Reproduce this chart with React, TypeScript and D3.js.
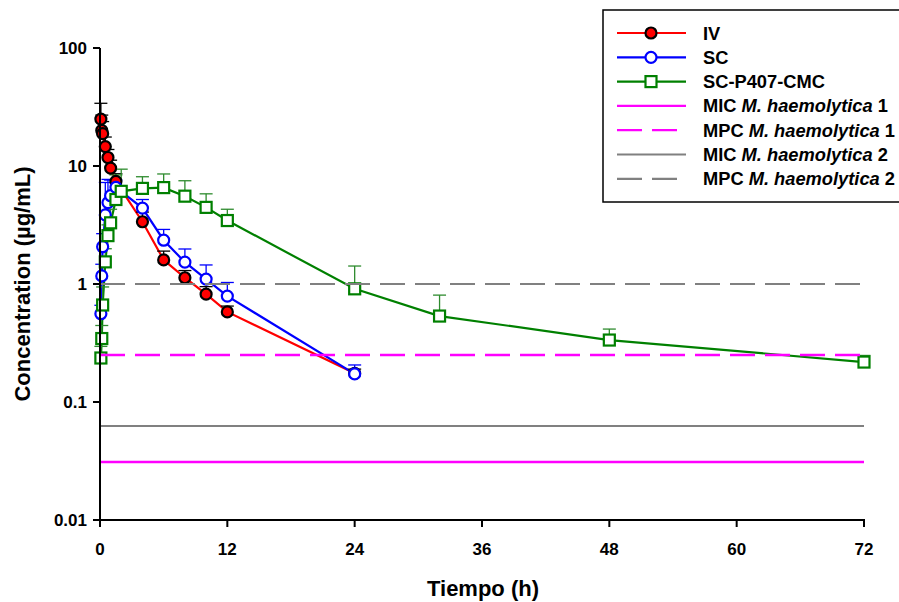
import React from "react";
import * as d3 from "d3";

const ivTime = [0.083, 0.167, 0.25, 0.5, 0.75, 1, 1.5, 4, 6, 8, 10, 12, 24];
const ivMean = [25, 20, 18.8, 14.6, 11.8, 9.6, 7.4, 3.37, 1.6, 1.13, 0.82, 0.58, 0.175];
const ivSd = [9, 7, 5, 3, 2, 1.6, 1.2, 0.7, 0.3, 0.17, 0.13, 0.07, 0.015];

const scTime = [0.083, 0.167, 0.25, 0.5, 0.75, 1, 1.5, 4, 6, 8, 10, 12, 24];
const scMean = [0.56, 1.17, 2.07, 3.85, 4.9, 5.6, 6.6, 4.4, 2.35, 1.53, 1.1, 0.79, 0.173];
const scSd = [0.1, 0.3, 0.6, 3.4, 2.8, 2.0, 1.0, 0.8, 0.55, 0.45, 0.35, 0.24, 0.033];

const gelTime = [0.083, 0.167, 0.25, 0.5, 0.75, 1, 1.5, 2, 4, 6, 8, 10, 12, 24, 32, 48, 72];
const gelMean = [0.236, 0.345, 0.664, 1.54, 2.57, 3.3, 5.2, 6.1, 6.46, 6.56, 5.55, 4.46, 3.45, 0.91, 0.535, 0.335, 0.218];
const gelSd = [0.06, 0.1, 0.28, 0.45, 0.6, 1.0, 3.2, 3.3, 1.65, 2.0, 1.95, 1.35, 0.85, 0.51, 0.27, 0.08, 0.03];

const refValues = [0.031, 0.25, 0.0625, 1];
const refColors = ["#FF00FF", "#FF00FF", "#808080", "#808080"];
const refDashed = [false, true, false, true];
const refLabels = ["MIC", "MPC", "MIC", "MPC"];
const refStrain = ["1", "1", "2", "2"];

const xTicks = [0, 12, 24, 36, 48, 60, 72];
const yTicks = [0.01, 0.1, 1, 10, 100];
const yTickLabels = ["0.01", "0.1", "1", "10", "100"];

const FONT = "'Liberation Sans', Arial, sans-serif";

export default function App() {
  const x = d3.scaleLinear().domain([0, 72]).range([100, 864]);
  const y = d3.scaleLog().domain([0.01, 100]).range([520, 48]);

  const mk = (t: number[], v: number[]) => t.map((tt, i) => [tt, v[i]] as [number, number]);
  const line = d3
    .line<[number, number]>()
    .x((d) => x(d[0]))
    .y((d) => y(d[1]));

  const series = [
    { name: "IV", t: ivTime, m: ivMean, s: ivSd, color: "#FF0000", err: "#000000", shape: "filled" },
    { name: "SC", t: scTime, m: scMean, s: scSd, color: "#0000FF", err: "#0000FF", shape: "open" },
    { name: "SC-P407-CMC", t: gelTime, m: gelMean, s: gelSd, color: "#008000", err: "#2E8B2E", shape: "square" },
  ];

  const marker = (shape: string, color: string, cx: number, cy: number, key: any) => {
    if (shape === "filled")
      return <circle key={key} cx={cx} cy={cy} r={5.5} fill="#FF0000" stroke="#000" strokeWidth={2.2} />;
    if (shape === "open")
      return <circle key={key} cx={cx} cy={cy} r={5.5} fill="#fff" stroke={color} strokeWidth={2.2} />;
    return <rect key={key} x={cx - 5.5} y={cy - 5.5} width={11} height={11} fill="#fff" stroke={color} strokeWidth={2.2} />;
  };

  const legendY = (i: number) => 33 + i * 24.3;

  return (
    <svg width={899} height={602} style={{ position: "absolute", left: 0, top: 0 }} fontFamily={FONT}>
      <rect width={899} height={602} fill="#fff" />
      {series.map((s) => (
        <path key={s.name} d={line(mk(s.t, s.m)) || ""} fill="none" stroke={s.color} strokeWidth={2.2} />
      ))}
      {series.map((s) =>
        s.t.map((t, i) => {
          const cx = x(t);
          const y0 = y(s.m[i]);
          const y1 = y(s.m[i] + s.s[i]);
          return (
            <g key={s.name + "e" + i} stroke={s.err} strokeWidth={1.3}>
              <line x1={cx} x2={cx} y1={y0} y2={y1} />
              <line x1={cx - 6.5} x2={cx + 6.5} y1={y1} y2={y1} />
            </g>
          );
        })
      )}
      {series.map((s) => s.t.map((t, i) => marker(s.shape, s.color, x(t), y(s.m[i]), s.name + "m" + i)))}
      {refValues.map((v, i) => (
        <line
          key={"ref" + i}
          x1={x(0)}
          x2={x(72)}
          y1={y(v)}
          y2={y(v)}
          stroke={refColors[i]}
          strokeWidth={i < 2 ? 2.5 : 2}
          strokeDasharray={refDashed[i] ? "25,10" : undefined}
        />
      ))}
      <line x1={x(0)} x2={x(0)} y1={y(100)} y2={y(0.01)} stroke="#000" strokeWidth={2} />
      <line x1={x(0) - 1} x2={x(72) + 1} y1={y(0.01)} y2={y(0.01)} stroke="#000" strokeWidth={2} />
      {yTicks.map((v, i) => (
        <g key={"yt" + i}>
          <line x1={x(0) - 7} x2={x(0)} y1={y(v)} y2={y(v)} stroke="#000" strokeWidth={2} />
          <text x={x(0) - 13} y={y(v)} dy="0.36em" textAnchor="end" fontSize={17} fontWeight="bold">
            {yTickLabels[i]}
          </text>
        </g>
      ))}
      {xTicks.map((t) => (
        <g key={"xt" + t}>
          <line x1={x(t)} x2={x(t)} y1={y(0.01)} y2={y(0.01) + 7} stroke="#000" strokeWidth={2} />
          <text x={x(t)} y={555} textAnchor="middle" fontSize={17} fontWeight="bold">
            {t}
          </text>
        </g>
      ))}
      <text x={483} y={596} textAnchor="middle" fontSize={22} fontWeight="bold">
        Tiempo (h)
      </text>
      <text transform="translate(30,284) rotate(-90)" textAnchor="middle" fontSize={22} fontWeight="bold">
        Concentration (µg/mL)
      </text>
      <rect x={603} y={10} width={310} height={192} fill="#fff" stroke="#000" strokeWidth={1.5} />
      {series.map((s, i) => (
        <g key={"lg" + i}>
          <line x1={617} x2={686} y1={legendY(i)} y2={legendY(i)} stroke={s.color} strokeWidth={2.2} />
          {marker(s.shape, s.color, 651, legendY(i), "lm" + i)}
          <text x={703} y={legendY(i)} dy="0.36em" fontSize={18.3} fontWeight="bold">
            {s.name}
          </text>
        </g>
      ))}
      {refValues.map((v, i) => (
        <g key={"lr" + i}>
          <line
            x1={617}
            x2={686}
            y1={legendY(i + 3)}
            y2={legendY(i + 3)}
            stroke={refColors[i]}
            strokeWidth={2.2}
            strokeDasharray={refDashed[i] ? "25,10" : undefined}
          />
          <text x={703} y={legendY(i + 3)} dy="0.36em" fontSize={18.3} fontWeight="bold">
            {refLabels[i] + " "}
            <tspan fontStyle="italic">M. haemolytica</tspan>
            {" " + refStrain[i]}
          </text>
        </g>
      ))}
    </svg>
  );
}
